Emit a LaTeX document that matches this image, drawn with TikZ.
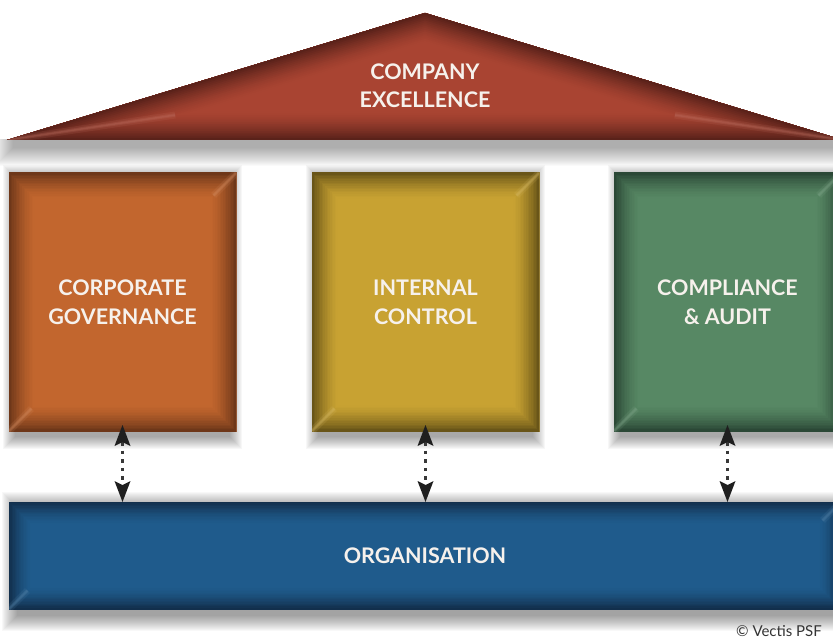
\documentclass[tikz,border=0pt]{standalone}
\usepackage{fontspec}
\setmainfont{Lato}
\usetikzlibrary{arrows.meta}

\definecolor{roofmain}{HTML}{A94432}
\definecolor{roofdark}{HTML}{5A221A}
\definecolor{cgmain}{HTML}{C2662E}
\definecolor{cgdark}{HTML}{6E3719}
\definecolor{icmain}{HTML}{C8A232}
\definecolor{icdark}{HTML}{695518}
\definecolor{camain}{HTML}{578864}
\definecolor{cadark}{HTML}{2B4836}
\definecolor{orgmain}{HTML}{1F5B8C}
\definecolor{orgdark}{HTML}{122F4C}
\definecolor{labeltext}{HTML}{F6F1EC}

\pgfdeclarelayer{back}
\pgfsetlayers{back,main}

% soft drop shadow built from stacked translucent rectangles
% #1 north-west anchor, #2 south-east anchor, #3 drop, #4 spread, #5 side inset, #6 layer opacity
\newcommand\dropshade[6]{%
  \foreach \r in {1,...,#4}{
    \fill[black, opacity=#6]
      ([shift={(#5-\r,#3-\r)}]#1) rectangle ([shift={(\r-#5,#3+\r)}]#2);
  }%
}

\tikzset{
  % filled block with a darkened inner rim and soft corner mitres
  bevel/.style n args={3}{
    fill=#1,
    path picture={
      \foreach \k in {1,...,16}{
        \pgfmathsetmacro\lw{2*#3*(17-\k)/16}
        \pgfmathtruncatemacro\pc{100*(\k/16)^1.5}
        \draw[line width=\lw pt, draw=#2!\pc!#1, line join=miter]
          (path picture bounding box.south west) rectangle (path picture bounding box.north east);
      }
      \foreach \w/\o in {7/.16, 3.5/.22, 1.5/.25}{
        \draw[line width=\w pt, draw=#1!75!white, opacity=\o, shorten >=5pt]
          (path picture bounding box.north east) -- ++(-#3 pt,-#3 pt);
        \draw[line width=\w pt, draw=#1!75!white, opacity=\o, shorten >=5pt]
          (path picture bounding box.south west) -- ++(#3 pt,#3 pt);
      }
    }
  },
  pillar/.style={rectangle, inner sep=0pt, outer sep=0pt,
    minimum width=227pt, minimum height=258pt, anchor=north west,
    text=labeltext, align=center,
    font=\bfseries\fontsize{21.5}{29}\selectfont},
  biarrow/.style={draw=black!78, line width=3.6pt, dash pattern=on 3.6pt off 5pt,
    {Stealth[length=21pt,width=16pt,inset=4pt,color=black!88,line width=0pt]}-%
    {Stealth[length=21pt,width=16pt,inset=4pt,color=black!88,line width=0pt]}},
}

\begin{document}
\begin{tikzpicture}[x=1pt,y=-1pt]
\useasboundingbox (0,0) rectangle (833,639);
\clip (0,0) rectangle (833,639);

% soft shadow under the roof
\begin{scope}
  \clip (0,140) rectangle (833,639);
  \coordinate (rsnw) at (14,134);
  \coordinate (rsse) at (840,144);
  \dropshade{rsnw}{rsse}{3}{19}{0}{0.021}
\end{scope}

% roof
\coordinate (rl) at (7,140);
\coordinate (apex) at (425,13);
\coordinate (rr) at (843,140);
\begin{scope}
  \clip (rl) -- (apex) -- (rr) -- cycle;
  \fill[roofmain] (rl) -- (apex) -- (rr) -- cycle;
  \foreach \k in {1,...,16}{
    \pgfmathsetmacro\lw{2*28*(17-\k)/16}
    \pgfmathtruncatemacro\pc{100*(\k/16)^1.5}
    \draw[line width=\lw pt, draw=roofdark!\pc!roofmain, line join=miter]
      (rl) -- (apex) -- (rr) -- cycle;
  }
  \foreach \w/\o in {7/.14, 3.5/.2, 1.5/.22}{
    \draw[line width=\w pt, draw=roofmain!75!white, opacity=\o, shorten >=20pt]
      (rl) -- ++(8.45:190pt);
    \draw[line width=\w pt, draw=roofmain!75!white, opacity=\o, shorten >=20pt]
      (rr) -- ++(171.55:190pt);
  }
\end{scope}
\node[text=labeltext, align=center, font=\bfseries\fontsize{21.5}{28}\selectfont]
  (roof) at (425,86) {COMPANY\\EXCELLENCE};

% pillars
\node[pillar, bevel={cgmain}{cgdark}{26}] (cg) at (9,173) {CORPORATE\\GOVERNANCE};
\node[pillar, bevel={icmain}{icdark}{26}] (ic) at (312,173) {INTERNAL\\CONTROL};
\node[pillar, bevel={camain}{cadark}{26}] (ca) at (614,173) {COMPLIANCE\\\&\ AUDIT};

% foundation
\node[rectangle, inner sep=0pt, outer sep=0pt, minimum width=832pt, minimum height=107pt,
  anchor=north west, text=labeltext, font=\bfseries\fontsize{21.5}{29}\selectfont,
  bevel={orgmain}{orgdark}{22}]
  (org) at (9,502) {ORGANISATION};

% shadows behind the blocks
\begin{pgfonlayer}{back}
  \dropshade{cg.north west}{cg.south east}{5}{13}{7}{0.03}
  \dropshade{ic.north west}{ic.south east}{5}{13}{7}{0.03}
  \dropshade{ca.north west}{ca.south east}{5}{13}{7}{0.03}
  \dropshade{org.north west}{org.south east}{6}{16}{9}{0.026}
\end{pgfonlayer}

% links between pillars and foundation
\draw[biarrow] ([yshift=6pt]cg.south) -- (cg.south |- org.north);
\draw[biarrow] ([yshift=6pt]ic.south) -- (ic.south |- org.north);
\draw[biarrow] ([yshift=6pt]ca.south) -- (ca.south |- org.north);

% credit line
\node[anchor=base east, inner sep=0pt, text=black!80, font=\fontsize{15}{18}\selectfont]
  (credit) at (822,636) {© Vectis PSF};
\end{tikzpicture}
\end{document}
